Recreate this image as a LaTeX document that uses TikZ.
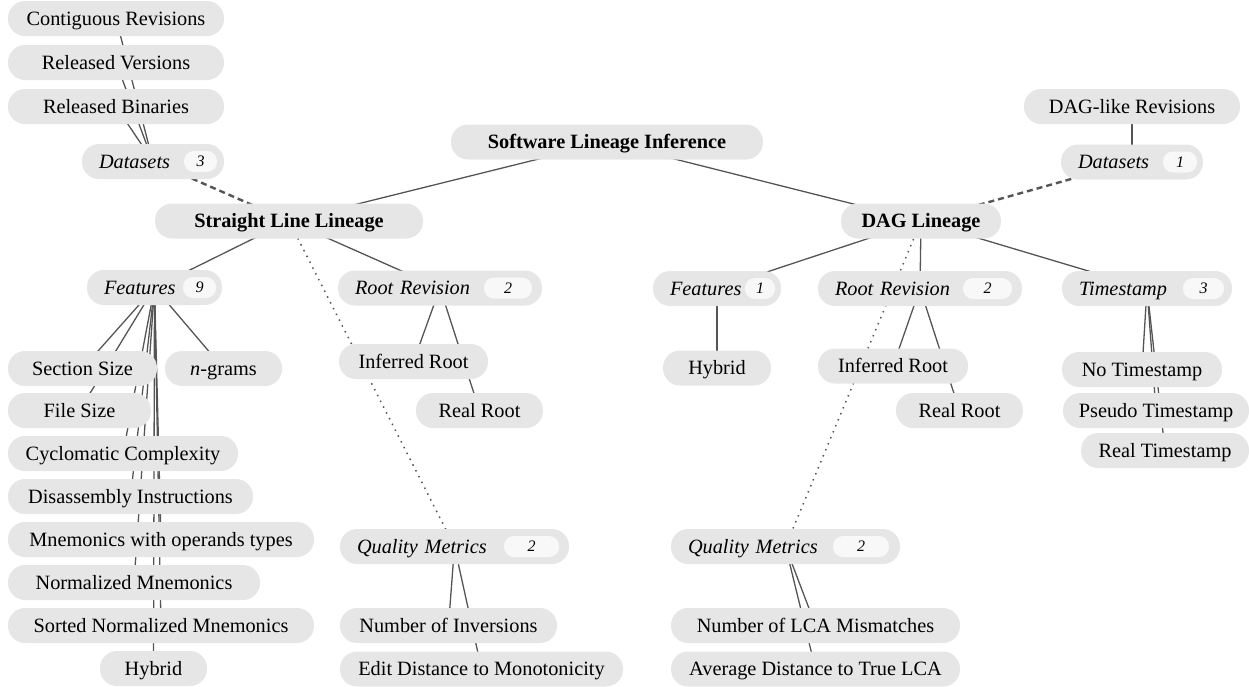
\documentclass[tikz,border=0pt]{standalone}
\usepackage{fontspec}
\setmainfont{Liberation Serif}
\usetikzlibrary{positioning,backgrounds}
\definecolor{boxgray}{HTML}{E6E6E6}
\definecolor{badgefill}{HTML}{F8F8F8}
\definecolor{edgegray}{HTML}{555555}
\newcommand{\mainsz}{\fontsize{20.3}{24}\selectfont}
\tikzset{
  leaf/.style = {fill=boxgray, rounded corners=17pt, minimum height=35pt,
    text height=14pt, text depth=1pt,
    inner ysep=0pt, inner xsep=0pt, font=\mainsz},
  topic/.style = {leaf, font=\mainsz\bfseries},
  grp/.style = {leaf, inner xsep=17pt, align=left, font=\mainsz\itshape},
  badge/.style = {fill=badgefill, rounded corners=10pt, minimum height=21pt,
    text height=11pt, text depth=1pt,
    inner sep=0pt, font=\fontsize{16}{18}\selectfont\itshape},
  link/.style = {draw=edgegray, line width=1.3pt},
  datalink/.style = {link, line width=2.4pt, dash pattern=on 6pt off 4pt},
  qualitylink/.style = {link, line width=1.5pt, dash pattern=on 1.5pt off 5pt}
}
\begin{document}
\begin{tikzpicture}[x=1pt, y=-1pt]
  \useasboundingbox (0,0) rectangle (1249,686);
  % root and the two lineages
  \node[topic, minimum width=312] (sli) at (607,142) {Software Lineage Inference};
  \node[topic, minimum width=268] (straight) at (289,221) {Straight Line Lineage};
  \node[topic, minimum width=160] (dag) at (921,221) {DAG Lineage};

  % straight line lineage
  \node[grp, text width=108] (sdata) at (153,161.5) {Datasets};
  \node[badge, minimum width=33, left=7pt of sdata.east] (sdatan) {3};
  \node[leaf, minimum width=216] (contig) at (116,18.5) {Contiguous Revisions};
  \node[leaf, minimum width=216] (versions) at (116,62.5) {Released Versions};
  \node[leaf, minimum width=216] (binaries) at (116,106.5) {Released Binaries};

  \node[grp, text width=101] (sfeat) at (154.5,287.5) {Features};
  \node[badge, minimum width=33, left=6pt of sfeat.east] (sfeatn) {9};
  \node[leaf, minimum width=149] (section) at (82.5,368.5) {Section Size};
  \node[leaf, minimum width=117] (ngrams) at (223.5,368.5) {\textit{n}-grams};
  \node[leaf, minimum width=143] (filesize) at (79.5,410.5) {File Size};
  \node[leaf, minimum width=230] (cyclo) at (123,453.5) {Cyclomatic Complexity};
  \node[leaf, minimum width=245] (disasm) at (130.5,496.5) {Disassembly Instructions};
  \node[leaf, minimum width=306] (mnemops) at (161,539.5) {Mnemonics with operands types};
  \node[leaf, minimum width=252] (normmn) at (134,582.5) {Normalized Mnemonics};
  \node[leaf, minimum width=306] (sortmn) at (161,625.5) {Sorted Normalized Mnemonics};
  \node[leaf, minimum width=107] (shybrid) at (153.5,668.5) {Hybrid};

  \node[grp, text width=170] (sroot) at (440,288) {Root Revision};
  \node[badge, minimum width=48, left=10pt of sroot.east] (srootn) {2};
  \node[leaf, minimum width=149] (sinferred) at (413.5,361.5) {Inferred Root};
  \node[leaf, minimum width=127] (sreal) at (479.5,410.5) {Real Root};

  \node[grp, text width=195] (squal) at (454.5,546.5) {Quality Metrics};
  \node[badge, minimum width=55, left=10pt of squal.east] (squaln) {2};
  \node[leaf, minimum width=217] (inversions) at (448.5,625.5) {Number of Inversions};
  \node[leaf, minimum width=283] (editdist) at (481.5,669) {Edit Distance to Monotonicity};

  % DAG lineage
  \node[grp, text width=108] (ddata) at (1132,162) {Datasets};
  \node[badge, minimum width=34, left=6pt of ddata.east] (ddatan) {1};
  \node[leaf, minimum width=216] (daglike) at (1132,106.5) {DAG-like Revisions};

  \node[grp, text width=94] (dfeat) at (717,288.5) {Features};
  \node[badge, minimum width=30, left=6pt of dfeat.east] (dfeatn) {1};
  \node[leaf, minimum width=108] (dhybrid) at (717,368) {Hybrid};

  \node[grp, text width=170] (droot) at (920,288.5) {Root Revision};
  \node[badge, minimum width=49, left=10pt of droot.east] (drootn) {2};
  \node[leaf, minimum width=150] (dinferred) at (893,366) {Inferred Root};
  \node[leaf, minimum width=127] (dreal) at (959.5,410.5) {Real Root};

  \node[grp, text width=136] (stamp) at (1147,288.5) {Timestamp};
  \node[badge, minimum width=41, left=8pt of stamp.east] (stampn) {3};
  \node[leaf, minimum width=160] (nostamp) at (1142,369.5) {No Timestamp};
  \node[leaf, minimum width=186] (pseudostamp) at (1156,410.5) {Pseudo Timestamp};
  \node[leaf, minimum width=168] (realstamp) at (1165,450.5) {Real Timestamp};

  \node[grp, text width=195] (dqual) at (785.5,546.5) {Quality Metrics};
  \node[badge, minimum width=56, left=11pt of dqual.east] (dqualn) {2};
  \node[leaf, minimum width=289] (lca) at (815.5,625.5) {Number of LCA Mismatches};
  \node[leaf, minimum width=289] (avgdist) at (815.5,669) {Average Distance to True LCA};

  % connectors, behind the boxes
  \begin{scope}[on background layer]
    \path[link] (sli.center) -- (straight.center);
    \path[link] (sli.center) -- (dag.center);
    \path[datalink] (straight.center) -- (sdata.center);
    \path[qualitylink] (straight.center) -- (squal.center);
    \foreach \n in {sfeat,sroot}
      \path[link] (straight.center) -- (\n.center);
    \foreach \n in {contig,versions,binaries}
      \path[link] (sdata.center) -- (\n.center);
    \foreach \n in {section,ngrams,filesize,cyclo,disasm,mnemops,normmn,sortmn,shybrid}
      \path[link] (sfeat.center) -- (\n.center);
    \foreach \n in {sinferred,sreal}
      \path[link] (sroot.center) -- (\n.center);
    \foreach \n in {inversions,editdist}
      \path[link] (squal.center) -- (\n.center);
    \path[datalink] (dag.center) -- (ddata.center);
    \path[qualitylink] (dag.center) -- (dqual.center);
    \foreach \n in {dfeat,droot,stamp}
      \path[link] (dag.center) -- (\n.center);
    \path[link] (ddata.center) -- (daglike.center);
    \path[link] (dfeat.center) -- (dhybrid.center);
    \foreach \n in {dinferred,dreal}
      \path[link] (droot.center) -- (\n.center);
    \foreach \n in {nostamp,pseudostamp,realstamp}
      \path[link] (stamp.center) -- (\n.center);
    \foreach \n in {lca,avgdist}
      \path[link] (dqual.center) -- (\n.center);
  \end{scope}
\end{tikzpicture}
\end{document}
